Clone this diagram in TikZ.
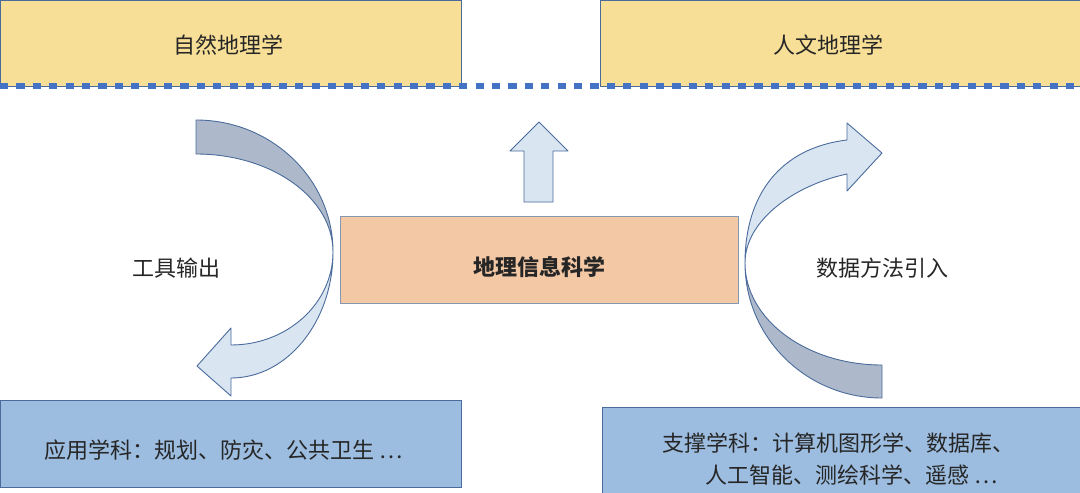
\documentclass[tikz,border=0pt]{standalone}
\usepackage{fontspec}
\setmainfont{Noto Sans CJK SC}
\definecolor{yel}{HTML}{F7DF97}
\definecolor{peach}{HTML}{F2C8A5}
\definecolor{bluebox}{HTML}{9CBDE0}
\definecolor{edge}{HTML}{4A6B9B}
\definecolor{dashblue}{HTML}{4472C4}
\definecolor{darkrib}{HTML}{ADB9CA}
\definecolor{lightrib}{HTML}{DAE5F2}
\definecolor{txt}{HTML}{262626}
\definecolor{cedge}{HTML}{8497B0}
\begin{document}
\begin{tikzpicture}[x=1pt,y=-1pt,
  box/.style={draw=edge, line width=0.9pt, inner sep=0pt},
  lbl/.style={text=txt, font=\fontsize{22}{26}\selectfont, inner sep=0pt},
  rib/.style={draw=edge, line width=0.9pt, line join=round}]
\useasboundingbox (0,0) rectangle (1080,493);
% top boxes
\node[box, fill=yel, minimum width=461pt, minimum height=85.5pt] (natbox) at (231,43.25) {};
\node[box, fill=yel, minimum width=482pt, minimum height=85.5pt] (humbox) at (841,43.25) {};
\node[lbl] (nat) at (228,45) {自然地理学};
\node[lbl] (hum) at (828,45) {人文地理学};
% dashed separator
\draw[dashblue, line width=6pt, dash pattern=on 8.2pt off 8.2pt] (0,86) -- (1080,86);
% center box
\node[box, draw=cedge, fill=peach, minimum width=398pt, minimum height=87pt] (gisbox) at (539,259.5) {};
\node[lbl, font=\fontsize{22}{26}\selectfont\bfseries] (gis) at (539,267) {地理信息科学};
% up arrow
\filldraw[rib, fill=lightrib] (524,202) -- (524,151) -- (510,151) -- (539,122) -- (568,151) -- (553,151) -- (553,202) -- cycle;
% left ribbon arrow
\filldraw[rib, fill=darkrib] (196,120) .. controls (271.7,120) and (333,179.1) .. (333,252)
  .. controls (333,197.9) and (271.7,154) .. (196,154) -- cycle;
\filldraw[rib, fill=lightrib] (333,252) .. controls (333,321.6) and (287.3,378) .. (231,378)
  -- (231,396) -- (197,366) -- (231,328) -- (231,345)
  .. controls (287.3,345) and (333,303.4) .. (333,252) -- cycle;
% right ribbon arrow
\filldraw[rib, fill=lightrib] (745,263) .. controls (745,195) and (780,148) .. (847,140)
  -- (847,123) -- (882,153) -- (847,191) -- (847,174)
  .. controls (795,185) and (745,220) .. (745,263) -- cycle;
\filldraw[rib, fill=darkrib] (745,263) .. controls (745,337.6) and (806.3,398) .. (882,398)
  -- (882,365) .. controls (806.3,365) and (745,319.3) .. (745,263) -- cycle;
% side labels
\node[lbl] (tool) at (176,268) {工具输出};
\node[lbl] (data) at (882,268) {数据方法引入};
% bottom boxes
\node[box, fill=bluebox, minimum width=461pt, minimum height=87pt] (appbox) at (231,443.5) {};
\node[lbl] (app) at (224,450) {应用学科：规划、防灾、公共卫生 …};
\node[box, fill=bluebox, minimum width=480pt, minimum height=100pt] (supbox) at (842,457) {};
\node[lbl, anchor=west] (sup1) at (662,443) {支撑学科：计算机图形学、数据库、};
\node[lbl, anchor=west] (sup2) at (705,475) {人工智能、测绘科学、遥感 …};
\end{tikzpicture}
\end{document}
